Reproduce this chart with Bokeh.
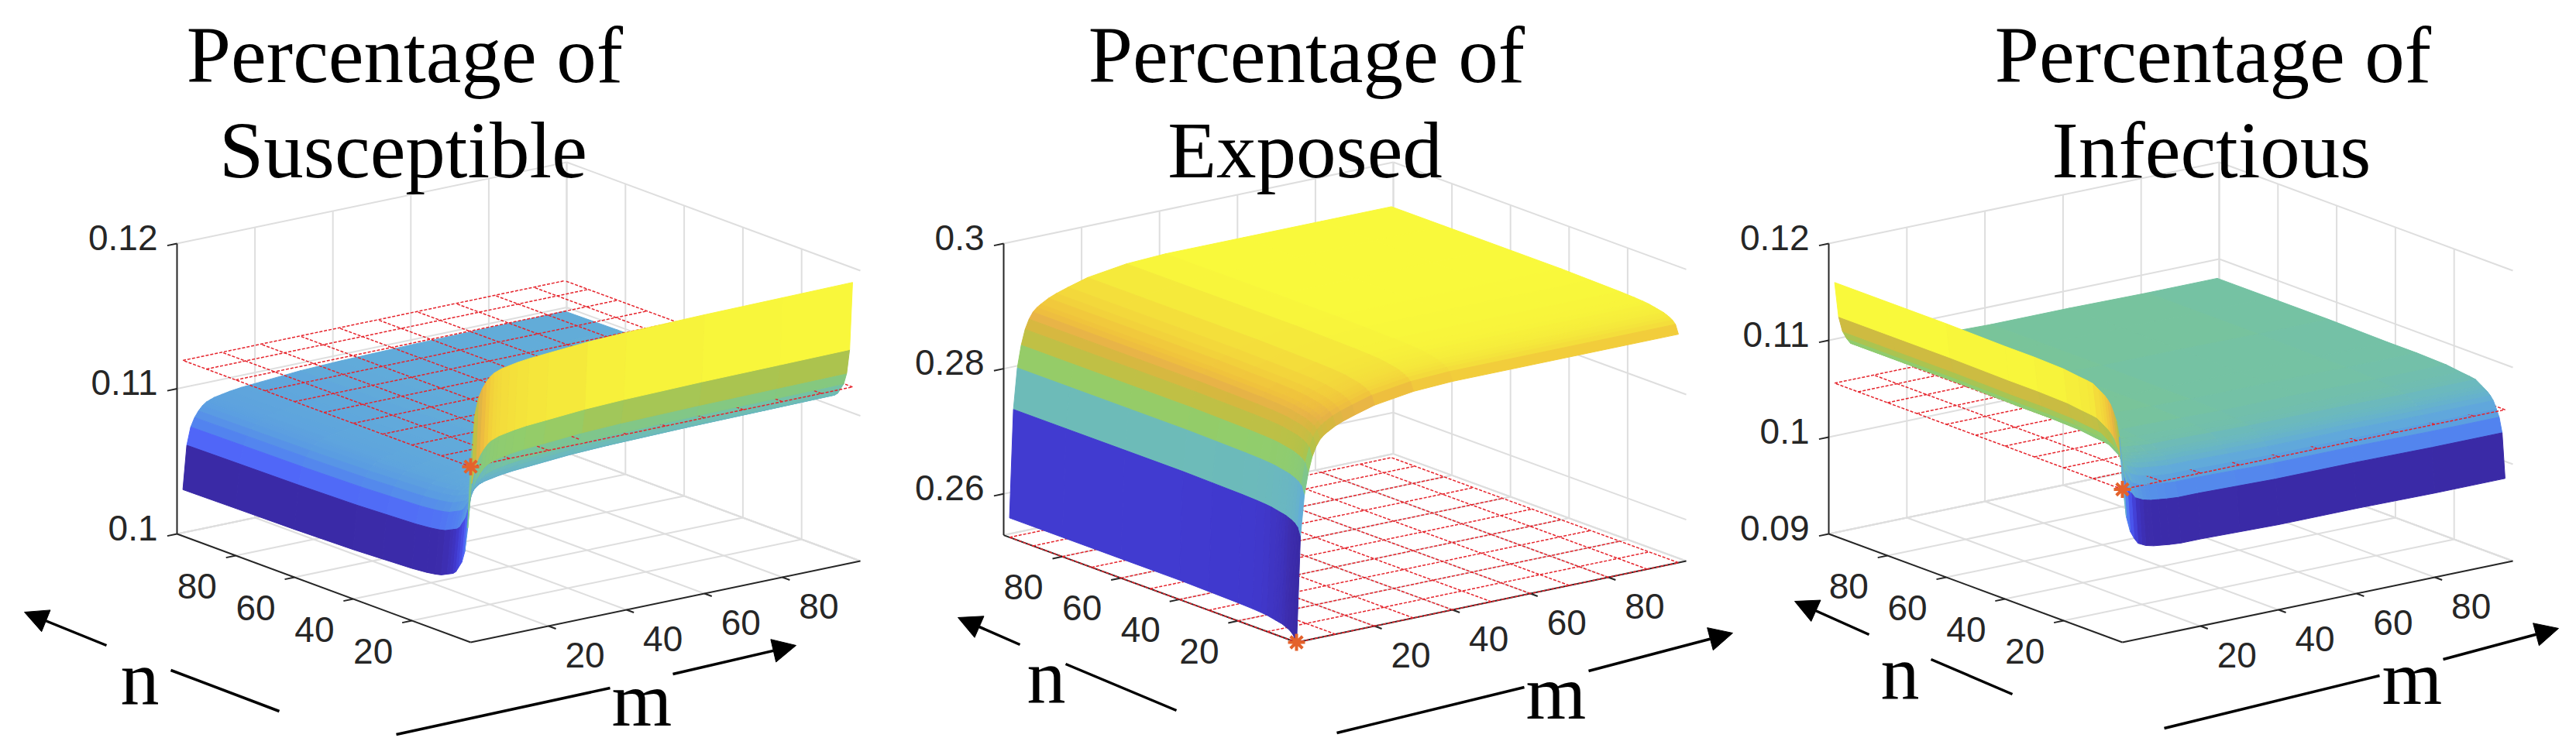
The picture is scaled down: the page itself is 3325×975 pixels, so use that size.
#!/usr/bin/env python
# -*- coding:utf-8 -*-

"three surface panels, percentage of S, E and I over m and n"

import numpy as np
from bokeh.core.properties import value
from bokeh.embed import file_html
from bokeh.models import Arrow, NormalHead, Range1d
from bokeh.plotting import figure
from bokeh.resources import INLINE

# grid nodes of the surfaces
nodes = [0, 1, 2, 3, 4, 5, 6, 7, 8, 10, 12, 15, 20, 30, 40, 60, 80, 98]

# value far from both edges, and how far the surface leaves it along m and n
s_plateau = 0.1100
s_along_m = [-.0068, -.0038, -.0026, -.0020, -.0016, -.0013, -.0011, -.0010, -.0009,
             -.0008, -.0007, -.0006, -.0005, -.0003, -.0002, -.0001, -.00005, 0]
s_along_n = [.0093, .0046, .0029, .0021, .0017, .0013, .0011, .0010, .0009,
             .0007, .0006, .0005, .0004, .0003, .0002, .0001, .00005, 0]

e_plateau = 0.2935
e_along_m = [-.0370, -.0198, -.0133, -.0098, -.0074, -.0059, -.0049, -.0043, -.0039,
             -.0032, -.0027, -.0021, -.0012, -.0003, 0, 0, 0, 0]
e_along_n = [-.0036, -.0022, -.0017, -.0014, -.0012, -.0010, -.0009, -.0008, -.0007,
             -.0005, -.0004, -.0003, -.0002, -.0001, 0, 0, 0, 0]

i_plateau = 0.1084
i_along_m = [.0078, .0042, .0026, .0018, .0012, .0010, .0008, .0007, .0006,
             .0005, .0004, .0003, .0003, .0002, .0001, .0001, 0, 0]
i_along_n = [-.0097, -.0051, -.0036, -.0028, -.0021, -.0017, -.0014, -.0012, -.0010,
             -.0006, -.0005, -.0004, -.0002, -.0001, -.0001, 0, 0, 0]

# height of the red plane with the star at its corner
s_plane = 0.1121
e_plane = 0.2534
i_plane = 0.1058

# tick values and labels
mn_ticks = [20, 40, 60, 80]
mn_labels = ["20", "40", "60", "80"]
plane_lines = [0, 10, 20, 30, 40, 50, 60, 70, 80, 90, 98]
s_zticks = [0.10, 0.11, 0.12]
s_zlabels = ["0.1", "0.11", "0.12"]
e_zticks = [0.26, 0.28, 0.30]
e_zlabels = ["0.26", "0.28", "0.3"]
i_zticks = [0.09, 0.10, 0.11, 0.12]
i_zlabels = ["0.09", "0.1", "0.11", "0.12"]

s_title = ["Percentage of", "Susceptible"]
e_title = ["Percentage of", "Exposed"]
i_title = ["Percentage of", "Infectious"]

# colormap of the surfaces
cmap_pos = [0, .05, .08, .14, .19, .26, .33, .42, .506, .554, .60, .668, .71, .756, .815, .853, .89, .93, .97, 1]
cmap_hex = ["#3a2aa6", "#3c2cac", "#4038cc", "#4850ea", "#5066f8", "#5282f0", "#5a9ce2", "#62acd9",
            "#6cbabb", "#75c2a3", "#85c87f", "#92cd6b", "#b0c24a", "#bfc045", "#d6b83f", "#e8b347",
            "#f0c23c", "#f3d63b", "#f5ea3b", "#f9f93b"]
cmap_rgb = np.array([[int(h[i:i + 2], 16) for i in (1, 3, 5)] for h in cmap_hex], dtype=float)

GRID = "#dedede"
AXIS = "#262626"
AXIS_MAX = 100

p = figure(width=3309, height=959, x_range=Range1d(0, 3309), y_range=Range1d(959, 0),
           x_axis_location=None, y_axis_location=None, toolbar_location=None,
           output_backend="svg", min_border=0, outline_line_color=None)
p.grid.visible = False


def colour(frac):
    rgb = [np.interp(frac, cmap_pos, cmap_rgb[:, i]) for i in range(3)]
    return "#%02x%02x%02x" % tuple(int(round(c)) for c in rgb)


def draw_panel(plateau, along_m, along_n, plane, zticks, zlabels, title, title_x,
               front, right, left, ztop, zmin, zmax, n_label, m_label, n_arrow, m_arrow):
    mx, my = (right[0] - front[0]) / AXIS_MAX, (right[1] - front[1]) / AXIS_MAX
    nx, ny = (left[0] - front[0]) / AXIS_MAX, (left[1] - front[1]) / AXIS_MAX
    zs = (left[1] - ztop) / (zmax - zmin)

    def px(m, n):
        return front[0] + m * mx + n * nx

    def py(m, n, z):
        return front[1] + m * my + n * ny - (z - zmin) * zs

    def line3d(m0, n0, z0, m1, n1, z1):
        return [px(m0, n0), px(m1, n1)], [py(m0, n0, z0), py(m1, n1, z1)]

    # walls and floor
    grid = []
    for t in mn_ticks + [AXIS_MAX]:
        grid.append(line3d(t, 0, zmin, t, AXIS_MAX, zmin))
        grid.append(line3d(0, t, zmin, AXIS_MAX, t, zmin))
        grid.append(line3d(t, AXIS_MAX, zmin, t, AXIS_MAX, zmax))
        grid.append(line3d(AXIS_MAX, t, zmin, AXIS_MAX, t, zmax))
    for z in zticks + [zmin]:
        grid.append(line3d(0, AXIS_MAX, z, AXIS_MAX, AXIS_MAX, z))
        grid.append(line3d(AXIS_MAX, 0, z, AXIS_MAX, AXIS_MAX, z))
    p.multi_line([g[0] for g in grid], [g[1] for g in grid], line_color=GRID, line_width=2)

    # axis lines and ticks
    ax = [line3d(0, AXIS_MAX, zmin, 0, AXIS_MAX, zmax),
          line3d(0, AXIS_MAX, zmin, 0, 0, zmin),
          line3d(0, 0, zmin, AXIS_MAX, 0, zmin)]
    for t in mn_ticks:
        ax.append(line3d(t, 0, zmin, t, -2.5, zmin))
        ax.append(line3d(0, t, zmin, -2.5, t, zmin))
    for z in zticks:
        ax.append(line3d(0, AXIS_MAX, z, -2.5, AXIS_MAX, z))
    p.multi_line([a[0] for a in ax], [a[1] for a in ax], line_color=AXIS, line_width=2)

    # surface cells, far ones first, coloured from the lower corner like a flat surf
    zz = plateau + np.add.outer(np.array(along_m), np.array(along_n))
    lo, hi = zz.min(), zz.max()
    under = ([], [], [])
    over = ([], [], [])
    for i in range(len(nodes) - 2, -1, -1):
        for j in range(len(nodes) - 2, -1, -1):
            corners = [(i, j), (i + 1, j), (i + 1, j + 1), (i, j + 1)]
            xs = [px(nodes[a], nodes[b]) for a, b in corners]
            ys = [py(nodes[a], nodes[b], zz[a, b]) for a, b in corners]
            mean_z = np.mean([zz[a, b] for a, b in corners])
            target = over if mean_z > plane else under
            target[0].append(xs)
            target[1].append(ys)
            target[2].append(colour((zz[i, j] - lo) / (hi - lo)))

    if under[0]:
        p.patches(under[0], under[1], fill_color=under[2], line_color=under[2], line_width=1)

    # red plane sits between the part of the surface below it and the part above it
    red = []
    for t in plane_lines:
        red.append(line3d(t, 0, plane, t, plane_lines[-1], plane))
        red.append(line3d(0, t, plane, plane_lines[-1], t, plane))
    p.multi_line([r[0] for r in red], [r[1] for r in red], line_color="#e5242c",
                 line_width=1.5, line_dash=value([4, 2]))

    if over[0]:
        p.patches(over[0], over[1], fill_color=over[2], line_color=over[2], line_width=1)

    p.scatter([px(0, 0)], [py(0, 0, plane)], marker="asterisk", size=22, line_color="#e4622c",
              line_width=4)

    # tick labels
    sans = value("Liberation Sans")
    serif = value("Liberation Serif")
    p.text([px(0, AXIS_MAX) - 25] * len(zticks), [py(0, AXIS_MAX, z) - 8 for z in zticks], text=zlabels,
           text_font=sans, text_font_size="46px", text_color=AXIS,
           text_align="right", text_baseline="middle")
    p.text([px(0, t) - 50 for t in mn_ticks], [py(0, t, zmin) + 39 for t in mn_ticks], text=mn_labels,
           text_font=sans, text_font_size="46px", text_color=AXIS,
           text_align="center", text_baseline="middle")
    p.text([px(t, 0) + 47 for t in mn_ticks], [py(t, 0, zmin) + 37 for t in mn_ticks], text=mn_labels,
           text_font=sans, text_font_size="46px", text_color=AXIS,
           text_align="center", text_baseline="middle")

    # title and axis letters, bokeh sets its baseline a bit under the given y
    p.text([title_x - 1, title_x - 3], [70, 193], text=title, text_font=serif,
           text_font_size="103px", text_color="black", text_align="center", text_baseline="alphabetic")
    p.text([n_label[0], m_label[0]], [n_label[1] - 29, m_label[1] - 29], text=["n", "m"], text_font=serif,
           text_font_size="100px", text_color="black", text_align="center", text_baseline="alphabetic")

    # hand drawn arrows beside the axes, each broken around its letter
    for arrow in (n_arrow, m_arrow):
        tail, gap_a, gap_b, tip = arrow
        p.line([tail[0], gap_a[0]], [tail[1], gap_a[1]], line_color="black", line_width=3.5)
        p.add_layout(Arrow(end=NormalHead(size=30, fill_color="black", line_color="black"),
                           x_start=gap_b[0], y_start=gap_b[1], x_end=tip[0], y_end=tip[1],
                           line_color="black", line_width=3.5))


draw_panel(s_plateau, s_along_m, s_along_n, s_plane, s_zticks, s_zlabels, s_title, 523,
           (607, 829), (1110, 724), (228, 689), 314, 0.10, 0.12,
           (180, 904), (828, 932),
           ((360, 918), (220, 865), (137, 833), (31, 790)),
           ((511, 948), (787, 888), (868, 870), (1027, 833)))

draw_panel(e_plateau, e_along_m, e_along_n, e_plane, e_zticks, e_zlabels, e_title, 1687,
           (1673, 829), (2176, 724), (1295, 690.6), 314, 0.2534, 0.30,
           (1350, 902), (2008, 923),
           ((1518, 917), (1375, 857), (1316, 832), (1236, 797)),
           ((1725, 946), (1967, 887), (2050, 866), (2236, 817)))

draw_panel(i_plateau, i_along_m, i_along_n, i_plane, i_zticks, i_zlabels, i_title, 2857,
           (2739, 829), (3243, 724), (2360, 689), 314, 0.09, 0.12,
           (2452, 897), (3113, 904),
           ((2597, 896), (2492, 851), (2412, 819), (2316, 776)),
           ((2793, 940), (3071, 872), (3153, 851), (3302, 811)))

open("out.html", "w").write(file_html(p, INLINE))
